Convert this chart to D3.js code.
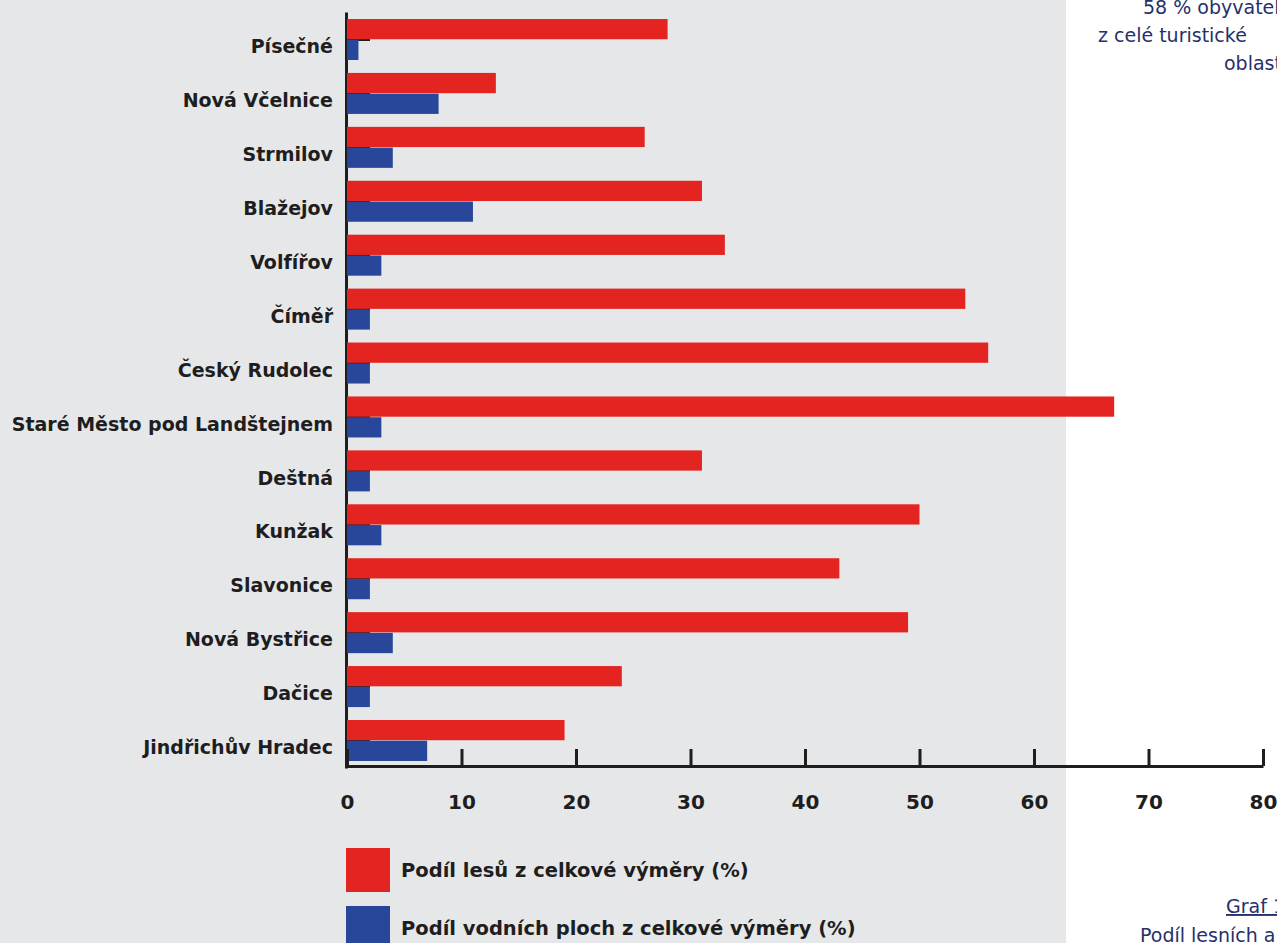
<!DOCTYPE html>
<html>
<head>
<meta charset="utf-8">
<script src="https://cdn.jsdelivr.net/npm/d3@7"></script>
<style>
  html, body { margin: 0; padding: 0; background: #fff; overflow: hidden; }
  svg { display: block; }
</style>
</head>
<body>
<div id="graph-wrapper"></div>
<script>
// categories, top to bottom
const towns = ['Písečné', 'Nová Včelnice', 'Strmilov', 'Blažejov', 'Volfířov', 'Číměř',
  'Český Rudolec', 'Staré Město pod Landštejnem', 'Deštná', 'Kunžak', 'Slavonice',
  'Nová Bystřice', 'Dačice', 'Jindřichův Hradec'];
// Podíl lesů (%)
const forest = [28, 13, 26, 31, 33, 54, 56, 67, 31, 50, 43, 49, 24, 19];
// Podíl vodních ploch (%)
const water = [1, 8, 4, 11, 3, 2, 2, 3, 2, 3, 2, 4, 2, 7];
const xTicks = [0, 10, 20, 30, 40, 50, 60, 70, 80];
const seriesNames = ['Podíl lesů z celkové výměry (%)', 'Podíl vodních ploch z celkové výměry (%)'];
const sideText = ['58 % obyvatel', 'z celé turistické', 'oblasti'];

function drawChart() {
  const width = 1277;
  const height = 943;
  const red = '#e42421';
  const blue = '#29479a';
  const ink = '#1e1e1e';
  const font = 'DejaVu Sans, sans-serif';

  const svg = d3.select('#graph-wrapper').append('svg')
    .attr('width', width)
    .attr('height', height);

  // grey panel
  svg.append('rect').attr('x', 0).attr('y', 0)
    .attr('width', 1066).attr('height', height).attr('fill', '#e6e7e9');

  const x = d3.scaleLinear().domain([0, 80]).range([347, 1263]);
  const y = d3.scaleBand().domain(towns).range([12, 768])
    .paddingInner(0.2396).paddingOuter(0.13);
  const ySub = d3.scaleBand().domain(['forest', 'water'])
    .range([0, y.bandwidth()]).paddingInner(1 / 41);

  // y axis (ticks pointing inward, drawn under the bars)
  const yAxis = svg.append('g')
    .attr('transform', 'translate(346,0)')
    .call(d3.axisLeft(y).tickSizeInner(-24).tickSizeOuter(0).tickPadding(13));
  yAxis.select('.domain').attr('stroke', ink).attr('stroke-width', 3);
  yAxis.selectAll('.tick line').attr('stroke', ink).attr('stroke-width', 3);
  yAxis.selectAll('.tick text')
    .attr('dy', '0.72em')
    .attr('fill', ink)
    .style('font-family', font)
    .style('font-weight', 'bold')
    .style('font-size', '19px');

  // bars
  const rows = towns.map((t, i) => ({ town: t, forest: forest[i], water: water[i] }));
  const groups = svg.append('g').selectAll('g').data(rows).join('g')
    .attr('transform', d => `translate(0,${y(d.town)})`);
  groups.append('rect')
    .attr('x', x(0))
    .attr('y', ySub('forest'))
    .attr('width', d => x(d.forest) - x(0))
    .attr('height', ySub.bandwidth())
    .attr('fill', red);
  groups.append('rect')
    .attr('x', x(0))
    .attr('y', ySub('water'))
    .attr('width', d => x(d.water) - x(0))
    .attr('height', ySub.bandwidth())
    .attr('fill', blue);

  // x axis
  const xAxis = svg.append('g')
    .attr('transform', 'translate(0,766)')
    .call(d3.axisBottom(x).tickValues(xTicks).tickSizeInner(-17).tickSizeOuter(0).tickPadding(29));
  xAxis.select('.domain').attr('stroke', ink).attr('stroke-width', 3);
  xAxis.selectAll('.tick line').attr('stroke', ink).attr('stroke-width', 3);
  xAxis.selectAll('.tick text')
    .attr('fill', ink)
    .style('font-family', font)
    .style('font-weight', 'bold')
    .style('font-size', '20px');

  // legend
  const legend = svg.append('g').attr('transform', 'translate(346,848)');
  [red, blue].forEach((c, i) => {
    legend.append('rect').attr('x', 0).attr('y', i * 58)
      .attr('width', 44).attr('height', 44).attr('fill', c);
    legend.append('text').attr('x', 55).attr('y', i * 58 + 22)
      .attr('dy', '0.35em')
      .attr('fill', ink)
      .style('font-family', font)
      .style('font-weight', 'bold')
      .style('font-size', '19.5px')
      .text(seriesNames[i]);
  });

  // text beside the chart (cut off by the page edge, as in the source)
  const navy = '#26306a';
  const sideX = [1143, 1098, 1224];
  sideText.forEach((t, i) => {
    svg.append('text').attr('x', sideX[i]).attr('y', 14 + i * 28)
      .attr('fill', navy)
      .style('font-family', font)
      .style('font-size', '19px')
      .text(t);
  });
  svg.append('text').attr('x', 1226).attr('y', 913)
    .attr('fill', navy)
    .style('font-family', font)
    .style('font-size', '19px')
    .style('text-decoration', 'underline')
    .text('Graf 1');
  svg.append('text').attr('x', 1140).attr('y', 942)
    .attr('fill', navy)
    .style('font-family', font)
    .style('font-size', '19px')
    .text('Podíl lesních a vodních ploch');
}

if (document.readyState !== 'loading') {
  drawChart();
} else { document.addEventListener('DOMContentLoaded', () => drawChart()); }
</script>
</body>
</html>
